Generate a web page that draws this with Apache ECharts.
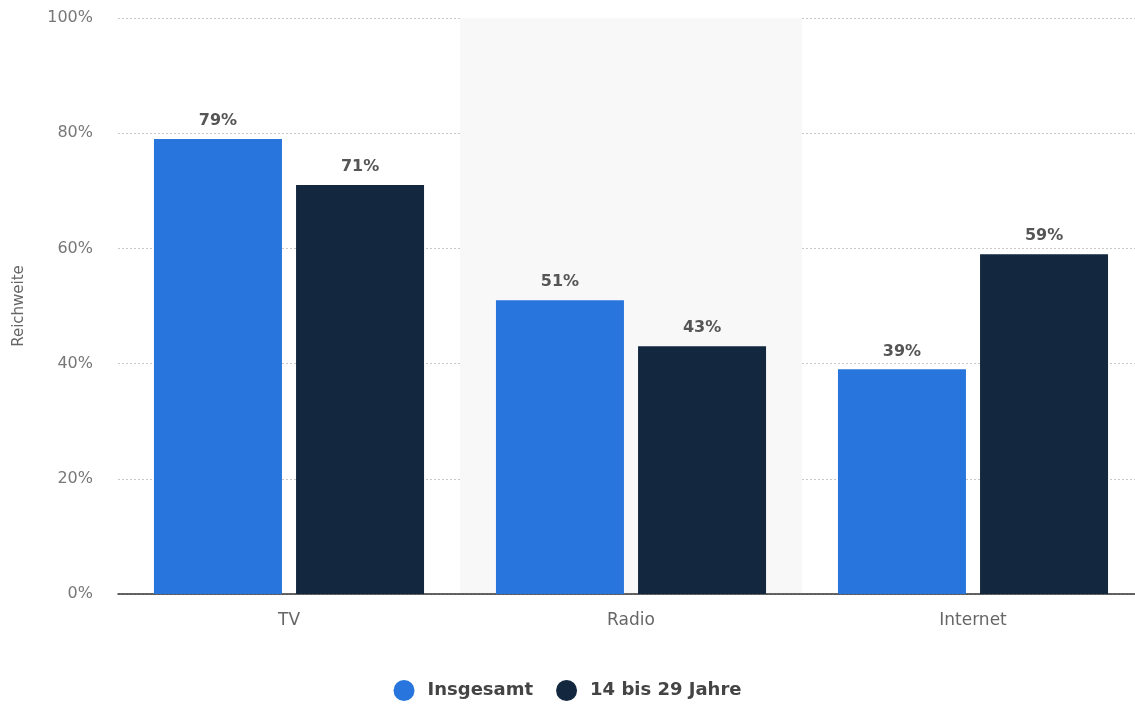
<!DOCTYPE html>
<html>
<head>
<meta charset="utf-8">
<script src="https://cdn.jsdelivr.net/npm/echarts@6/dist/echarts.min.js"></script>
<style>
  html, body { margin: 0; padding: 0; background: #fff; overflow: hidden; }
  #chart { width: 1135px; height: 704px; }
</style>
</head>
<body>
<div id="chart"></div>
<script>
// Reichweite nach Mediengattung
const categories = ['TV', 'Radio', 'Internet'];
const seriesNames = ['Insgesamt', '14 bis 29 Jahre'];
const insgesamt = [79, 51, 39];
const jung = [71, 43, 59];
const yTicks = [0, 20, 40, 60, 80, 100];

const colors = ['#2876dd', '#13273f'];
const FONT = 'DejaVu Sans, Verdana, sans-serif';
const labelStyle = {
  show: true,
  position: 'top',
  distance: 10,
  formatter: '{c}%',
  fontFamily: FONT,
  fontWeight: 'bold',
  fontSize: 16,
  color: '#555'
};

const chart = echarts.init(document.getElementById('chart'));
chart.setOption({
  animation: false,
  color: colors,
  // the plot runs a few pixels past the right edge of the canvas
  grid: { left: 118, width: 1026, top: 18, bottom: 110, containLabel: false, outerBoundsMode: 'none' },
  legend: {
    top: 675,
    left: 'center',
    icon: 'circle',
    itemWidth: 21,
    itemHeight: 21,
    itemGap: 23,
    textStyle: { fontFamily: FONT, fontWeight: 'bold', fontSize: 18, color: '#444', padding: [0, 0, 0, 8] },
    data: seriesNames
  },
  xAxis: {
    type: 'category',
    data: categories,
    axisLine: { lineStyle: { color: '#333', width: 1.5 } },
    axisTick: { show: false },
    axisLabel: { margin: 18, fontFamily: FONT, fontSize: 17, color: '#666' },
    splitArea: { show: true, areaStyle: { color: ['rgba(0,0,0,0)', '#f8f8f8'] } }
  },
  yAxis: {
    type: 'value',
    min: yTicks[0],
    max: yTicks[yTicks.length - 1],
    interval: 20,
    name: 'Reichweite',
    nameLocation: 'middle',
    nameGap: 91,
    nameRotate: 90,
    nameTextStyle: { fontFamily: FONT, fontSize: 15, color: '#666' },
    axisLine: { show: false },
    axisTick: { show: false },
    axisLabel: { margin: 25, formatter: '{value}%', fontFamily: FONT, fontSize: 16, color: '#777' },
    splitLine: { lineStyle: { color: '#c8c8c8', type: [2, 2], width: 1 } }
  },
  series: [
    { name: seriesNames[0], type: 'bar', data: insgesamt, barWidth: 128, barGap: '11%', label: labelStyle },
    { name: seriesNames[1], type: 'bar', data: jung, barWidth: 128, label: labelStyle }
  ]
});
</script>
</body>
</html>
